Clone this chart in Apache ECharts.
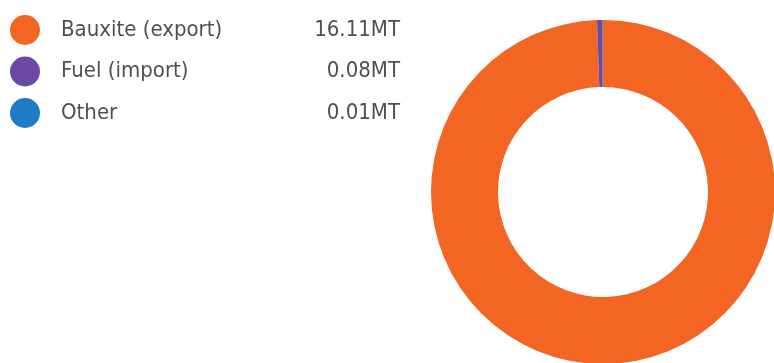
<!DOCTYPE html>
<html><head><meta charset="utf-8">
<script src="https://cdn.jsdelivr.net/npm/echarts@6/dist/echarts.min.js"></script>
<style>html,body{margin:0;padding:0;background:#fff}#c{width:774px;height:363px}</style>
</head><body><div id="c"></div>
<script>
const categories = ['Bauxite (export)', 'Fuel (import)', 'Other'];
const values = [16.11, 0.08, 0.01];
const valueLabels = ['16.11MT', '0.08MT', '0.01MT'];
const colors = ['#f26522', '#6b4aa6', '#1f7bc4'];

const chart = echarts.init(document.getElementById('c'), null, {renderer: 'canvas'});
const font = "'DejaVu Sans Condensed', 'DejaVu Sans', sans-serif";
chart.setOption({
  animation: false,
  color: colors,
  legend: {
    orient: 'vertical',
    left: 5, top: 10,
    icon: 'circle',
    itemWidth: 30, itemHeight: 30,
    itemGap: 11.5,
    selectedMode: false,
    formatter: function (name) {
      const i = categories.indexOf(name);
      return '{n|' + name + '}{v|' + valueLabels[i] + '}';
    },
    textStyle: {
      rich: {
        n: {width: 230, fontSize: 22, color: '#505050', fontFamily: font, padding: [0,0,0,16]},
        v: {width: 109, align: 'right', fontSize: 22, color: '#505050', fontFamily: font}
      }
    }
  },
  series: [{
    type: 'pie',
    center: [603, 192],
    radius: [105, 172],
    startAngle: 90,
    clockwise: true,
    label: {show: false},
    labelLine: {show: false},
    silent: true,
    itemStyle: {borderWidth: 0},
    data: categories.map((c, i) => ({name: c, value: values[i]}))
  }]
});
</script></body></html>
